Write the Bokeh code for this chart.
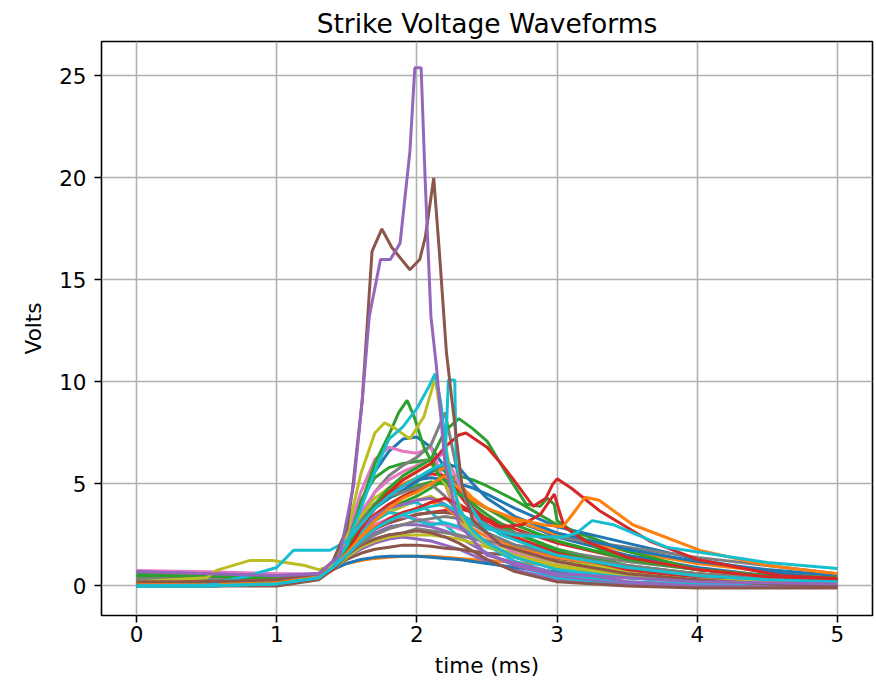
from bokeh.plotting import figure
from bokeh.models import FixedTicker, Range1d
from bokeh.embed import file_html
from bokeh.resources import INLINE

BLUE, ORANGE, GREEN, RED, PURPLE = "#1f77b4", "#ff7f0e", "#2ca02c", "#d62728", "#9467bd"
BROWN, PINK, GRAY, OLIVE, CYAN = "#8c564b", "#e377c2", "#7f7f7f", "#bcbd22", "#17becf"

title_text = "Strike Voltage Waveforms"
x_label = "time (ms)"
y_label = "Volts"
x_ticks = [0, 1, 2, 3, 4, 5]
y_ticks = [0, 5, 10, 15, 20, 25]

# common time grid (ms) for the bulk of the waveforms
t_grid = [0, 0.5, 1.0, 1.3, 1.4, 1.5, 1.6, 1.7, 1.8, 1.9, 2.0, 2.1, 2.2, 2.3, 2.4, 2.5, 2.7, 3.0, 3.5, 4.0, 4.5, 5.0]

blue_1 = [0.2, 0.2, 0.2, 0.5, 0.9, 2.0, 4.0, 5.6, 6.6, 7.2, 7.3, 6.8, 5.8, 4.8, 4.2, 3.8, 3.2, 2.4, 1.5, 0.9, 0.5, 0.3]
orange_1 = [0.1, 0.1, 0.1, 0.4, 0.8, 1.1, 1.25, 1.35, 1.4, 1.45, 1.45, 1.45, 1.4, 1.35, 1.3, 1.25, 1.15, 1.0, 0.7, 0.45, 0.3, 0.2]
green_3 = [0.5, 0.5, 0.4, 0.6, 1.0, 2.4, 4.2, 5.3, 5.8, 6.0, 6.1, 6.2, 5.6, 4.5, 3.8, 3.3, 2.6, 1.8, 1.0, 0.6, 0.4, 0.3]
red_2 = [0.1, 0.1, 0.2, 0.5, 0.9, 1.8, 2.8, 3.5, 4.0, 4.4, 4.7, 5.0, 5.3, 4.5, 3.6, 3.0, 2.3, 1.6, 0.9, 0.5, 0.3, 0.2]
purple_2 = [0.5, 0.5, 0.4, 0.6, 0.9, 1.4, 1.8, 2.1, 2.3, 2.4, 2.3, 2.2, 2.0, 1.8, 1.5, 1.2, 0.8, 0.3, 0.05, 0.0, 0.0, 0.0]
brown_2 = [0.2, 0.2, 0.3, 0.5, 0.9, 1.3, 1.6, 1.8, 1.9, 2.0, 2.0, 1.95, 1.85, 1.8, 1.7, 1.6, 1.5, 1.3, 0.9, 0.6, 0.3, 0.1]
pink_1 = [0.75, 0.7, 0.6, 0.6, 1.0, 2.4, 4.6, 6.2, 6.8, 6.6, 6.5, 6.8, 5.0, 3.2, 2.4, 2.0, 1.5, 1.0, 0.5, 0.3, 0.2, 0.1]
gray_1 = [0.3, 0.3, 0.4, 0.6, 1.0, 2.0, 3.4, 4.6, 5.4, 5.9, 6.3, 6.9, 8.5, 5.2, 3.5, 2.6, 2.0, 1.4, 0.9, 0.5, 0.3, 0.2]
olive_2 = [0.1, 0.1, 0.1, 0.4, 0.8, 1.7, 2.6, 3.2, 3.6, 3.9, 4.2, 4.4, 4.0, 3.2, 2.6, 2.2, 1.7, 1.2, 0.7, 0.4, 0.2, 0.1]
cyan_3 = [0.0, 0.0, 0.1, 0.4, 0.9, 1.8, 2.8, 3.4, 3.8, 4.0, 4.1, 3.6, 3.0, 2.4, 2.0, 1.6, 1.0, 0.4, 0.1, 0.0, 0.0, 0.0]
blue_2 = [0.0, 0.0, 0.1, 0.4, 0.8, 1.1, 1.3, 1.4, 1.45, 1.45, 1.45, 1.4, 1.35, 1.3, 1.2, 1.1, 0.9, 0.7, 0.4, 0.2, 0.1, 0.05]
orange_2 = [0.1, 0.2, 0.2, 0.5, 0.9, 2.0, 3.2, 4.0, 4.6, 5.0, 5.3, 5.6, 5.8, 5.0, 4.3, 3.8, 3.2, 2.5, 1.7, 1.1, 0.7, 0.5]
green_4 = [0.4, 0.4, 0.3, 0.5, 0.9, 1.8, 2.7, 3.3, 3.8, 4.1, 4.4, 4.8, 5.2, 5.4, 5.2, 4.9, 4.2, 3.0, 1.7, 0.8, 0.5, 0.3]
red_3 = [0.2, 0.2, 0.2, 0.5, 0.9, 1.6, 2.3, 2.8, 3.1, 3.3, 3.5, 3.6, 3.7, 3.8, 3.6, 3.3, 2.8, 2.1, 1.3, 0.8, 0.5, 0.35]
purple_3 = [0.3, 0.3, 0.3, 0.5, 0.9, 1.6, 2.2, 2.6, 2.9, 3.0, 3.0, 2.9, 2.7, 2.4, 2.0, 1.6, 1.0, 0.5, 0.1, 0.0, 0.0, 0.0]
brown_3 = [0.2, 0.2, 0.3, 0.5, 0.9, 1.6, 2.3, 2.8, 3.1, 3.3, 3.5, 3.6, 3.6, 3.5, 3.2, 2.9, 2.3, 1.6, 0.8, 0.4, 0.1, 0.0]
pink_2 = [0.3, 0.3, 0.3, 0.5, 0.9, 1.7, 2.5, 3.0, 3.3, 3.4, 3.3, 3.1, 3.0, 2.8, 2.5, 2.2, 1.8, 1.4, 0.9, 0.5, 0.3, 0.2]
gray_2 = [0.1, 0.1, 0.2, 0.5, 0.9, 1.5, 2.0, 2.3, 2.5, 2.6, 2.8, 2.7, 2.6, 2.5, 2.3, 2.2, 2.0, 1.7, 1.2, 0.8, 0.5, 0.3]
olive_3 = [0.0, 0.0, 0.1, 0.4, 0.8, 1.4, 1.9, 2.2, 2.4, 2.5, 2.5, 2.5, 2.4, 2.3, 2.1, 1.9, 1.6, 1.2, 0.8, 0.5, 0.3, 0.2]
cyan_4 = [0.0, 0.0, 0.1, 0.4, 0.9, 1.7, 2.6, 3.2, 3.6, 3.5, 3.2, 3.0, 3.1, 2.9, 2.5, 2.0, 1.2, 0.6, 0.2, 0.1, 0.05, 0.0]
blue_3 = [0.3, 0.3, 0.3, 0.5, 0.9, 2.0, 3.2, 4.0, 4.5, 4.9, 5.2, 5.3, 5.2, 5.0, 4.8, 4.5, 3.8, 2.9, 2.1, 1.3, 0.7, 0.3]
orange_3 = [0.2, 0.2, 0.3, 0.5, 0.9, 1.7, 2.4, 2.9, 3.2, 3.5, 3.8, 4.1, 3.9, 3.3, 2.8, 2.4, 1.9, 1.4, 0.9, 0.6, 0.4, 0.3]
green_5 = [0.3, 0.3, 0.3, 0.5, 0.9, 1.9, 3.0, 3.8, 4.3, 4.6, 4.9, 5.1, 5.0, 4.6, 4.0, 3.5, 2.6, 1.7, 0.9, 0.5, 0.3, 0.2]
red_4 = [0.0, 0.0, 0.1, 0.4, 0.9, 2.0, 3.2, 4.0, 4.5, 4.9, 5.2, 5.5, 5.4, 4.6, 3.8, 3.2, 2.4, 1.6, 0.8, 0.4, 0.2, 0.1]
purple_4 = [0.7, 0.6, 0.5, 0.6, 1.0, 1.9, 2.8, 3.4, 3.8, 4.0, 4.2, 4.3, 4.0, 3.4, 2.7, 2.1, 1.4, 0.8, 0.2, 0.0, 0.0, 0.0]
brown_4 = [0.1, 0.0, 0.0, 0.3, 0.8, 1.5, 2.0, 2.3, 2.5, 2.6, 2.7, 2.6, 2.4, 2.1, 1.7, 1.3, 0.7, 0.2, 0.0, -0.1, -0.1, -0.1]
pink_3 = [0.4, 0.4, 0.4, 0.6, 1.0, 2.2, 3.6, 4.6, 5.2, 5.6, 5.9, 6.2, 6.5, 5.0, 3.4, 2.5, 1.6, 1.0, 0.6, 0.3, 0.2, 0.1]
gray_4 = [0.3, 0.3, 0.3, 0.5, 0.9, 1.5, 2.1, 2.5, 2.8, 3.0, 3.2, 3.3, 3.4, 3.3, 3.1, 2.9, 2.6, 2.4, 1.9, 1.4, 1.0, 0.6]
olive_4 = [0.2, 0.2, 0.2, 0.5, 0.9, 2.0, 3.4, 4.3, 4.8, 5.2, 5.6, 6.0, 5.0, 3.6, 2.6, 2.0, 1.4, 0.9, 0.5, 0.3, 0.15, 0.1]
blue_4 = [0.1, 0.1, 0.2, 0.5, 0.9, 1.9, 3.0, 3.8, 4.3, 4.7, 5.1, 5.6, 6.0, 5.8, 5.0, 4.3, 3.4, 2.6, 1.8, 1.2, 0.8, 0.5]
gray_3 = [0.4, 0.4, 0.4, 0.6, 1.0, 2.0, 3.2, 4.0, 4.4, 4.6, 4.8, 5.0, 4.4, 3.6, 3.0, 2.6, 2.0, 1.5, 1.0, 0.6, 0.4, 0.3]

grid_series = [
    (blue_1, BLUE), (orange_1, ORANGE), (green_3, GREEN), (red_2, RED), (purple_2, PURPLE),
    (brown_2, BROWN), (pink_1, PINK), (gray_1, GRAY), (olive_2, OLIVE), (cyan_3, CYAN),
    (blue_2, BLUE), (orange_2, ORANGE), (green_4, GREEN), (red_3, RED), (purple_3, PURPLE),
    (brown_3, BROWN), (pink_2, PINK), (gray_2, GRAY), (olive_3, OLIVE), (cyan_4, CYAN),
    (blue_3, BLUE), (orange_3, ORANGE), (green_5, GREEN), (red_4, RED), (purple_4, PURPLE),
    (brown_4, BROWN), (pink_3, PINK), (gray_4, GRAY), (olive_4, OLIVE), (blue_4, BLUE),
    (gray_3, GRAY),
]

# waveforms with features of their own
t_green_a = [0, 0.5, 1, 1.3, 1.4, 1.5, 1.6, 1.7, 1.8, 1.87, 1.93, 1.98, 2.05, 2.15, 2.3, 2.5, 2.7, 3.0, 3.5, 4, 4.5, 5]
v_green_a = [0.5, 0.5, 0.4, 0.5, 0.9, 2.0, 4.0, 6.0, 7.4, 8.5, 9.1, 8.3, 6.8, 5.5, 4.5, 3.8, 3.0, 2.2, 1.3, 0.8, 0.5, 0.3]

t_green_b = [0, 0.5, 1.0, 1.3, 1.4, 1.5, 1.6, 1.7, 1.8, 1.9, 2.0, 2.1, 2.2, 2.3, 2.4, 2.5, 2.64, 2.78, 2.88, 2.93, 2.98, 3.0, 3.3, 3.6, 4.0, 4.5, 5.0]
v_green_b = [0.6, 0.5, 0.3, 0.5, 0.9, 1.8, 3.0, 4.0, 4.8, 5.4, 5.8, 6.2, 7.6, 8.2, 7.7, 7.1, 5.5, 4.0, 3.9, 4.3, 4.0, 3.2, 1.8, 1.2, 0.8, 0.5, 0.4]

t_red_c = [0, 0.5, 1.0, 1.3, 1.4, 1.5, 1.6, 1.7, 1.8, 1.9, 2.0, 2.1, 2.2, 2.3, 2.35, 2.5, 2.6, 2.68, 2.83, 2.92, 2.97, 3.0, 3.1, 3.3, 3.66, 4.0, 4.6, 5.0]
v_red_c = [0.2, 0.2, 0.2, 0.4, 0.8, 1.6, 2.8, 3.8, 4.6, 5.2, 5.6, 6.0, 6.8, 7.4, 7.5, 6.8, 6.0, 5.3, 3.9, 4.3, 5.0, 5.25, 4.8, 3.7, 2.2, 1.3, 0.5, 0.37]

t_red_d = [0, 0.5, 1, 1.3, 1.4, 1.5, 1.6, 1.7, 1.8, 1.9, 2.0, 2.1, 2.2, 2.3, 2.4, 2.5, 2.6, 2.75, 2.88, 2.95, 2.98, 3.01, 3.05, 3.2, 3.5, 4.0, 4.5, 5.0]
v_red_d = [0.1, 0.1, 0.2, 0.5, 0.9, 1.5, 2.2, 2.8, 3.3, 3.6, 3.8, 4.1, 4.3, 4.0, 3.6, 3.2, 2.9, 3.0, 3.5, 4.2, 4.5, 3.8, 2.9, 2.2, 1.4, 0.8, 0.45, 0.3]

t_orange_e = [0, 0.5, 1, 1.3, 1.4, 1.5, 1.6, 1.7, 1.8, 1.9, 2.0, 2.1, 2.2, 2.3, 2.4, 2.5, 2.7, 2.9, 3.04, 3.12, 3.2, 3.3, 3.54, 4.02, 4.5, 5.0]
v_orange_e = [0.1, 0.1, 0.2, 0.5, 0.9, 1.6, 2.4, 3.2, 3.8, 4.3, 4.6, 5.0, 5.4, 4.8, 4.2, 3.8, 3.3, 3.0, 2.9, 3.6, 4.35, 4.2, 3.0, 1.74, 1.0, 0.6]

t_cyan_f = [0, 0.5, 1, 1.3, 1.4, 1.5, 1.6, 1.7, 1.8, 1.9, 2.0, 2.1, 2.2, 2.3, 2.4, 2.5, 2.7, 2.9, 3.05, 3.14, 3.25, 3.4, 3.78, 4.5, 5.0]
v_cyan_f = [0.0, 0.0, 0.1, 0.4, 0.9, 1.5, 2.2, 2.8, 3.2, 3.5, 3.7, 3.9, 4.0, 3.6, 3.1, 2.8, 2.5, 2.4, 2.4, 2.6, 3.2, 3.0, 1.9, 1.15, 0.85]

t_cyan_g = [0, 0.5, 1, 1.3, 1.4, 1.5, 1.6, 1.7, 1.8, 1.9, 2.0, 2.08, 2.13, 2.17, 2.22, 2.3, 2.4, 2.5, 2.7, 3.0, 3.5, 4.0, 4.5, 5.0]
v_cyan_g = [0.0, 0.0, 0.1, 0.4, 0.9, 2.0, 3.8, 5.6, 7.2, 7.8, 8.7, 9.7, 10.4, 9.0, 6.0, 3.8, 2.7, 2.1, 1.4, 0.8, 0.4, 0.2, 0.1, 0.05]

t_cyan_h = [0, 0.5, 0.8, 1.0, 1.12, 1.38, 1.5, 1.6, 1.7, 1.8, 1.9, 2.0, 2.1, 2.2, 2.215, 2.225, 2.27, 2.28, 2.35, 2.45, 2.6, 2.8, 3.0, 3.5, 4, 4.5, 5]
v_cyan_h = [0.0, 0.05, 0.5, 0.9, 1.75, 1.75, 2.2, 3.0, 3.8, 4.4, 4.9, 5.3, 5.7, 6.0, 8.5, 10.1, 10.1, 6.0, 4.2, 3.2, 2.5, 2.0, 1.5, 0.9, 0.5, 0.3, 0.2]

t_olive_i = [0, 0.5, 0.57, 0.81, 0.97, 1.2, 1.3, 1.4, 1.5, 1.6, 1.7, 1.77, 1.85, 1.95, 2.05, 2.13, 2.18, 2.25, 2.35, 2.5, 2.7, 3.0, 3.5, 4, 4.5, 5]
v_olive_i = [0.2, 0.4, 0.76, 1.25, 1.25, 1.0, 0.8, 1.0, 2.5, 5.5, 7.5, 8.0, 7.7, 7.2, 8.3, 10.2, 8.0, 5.0, 3.0, 2.0, 1.5, 1.0, 0.6, 0.3, 0.2, 0.1]

t_brown_big = [0, 0.5, 1.0, 1.3, 1.4, 1.5, 1.54, 1.61, 1.68, 1.75, 1.82, 1.95, 2.02, 2.06, 2.12, 2.16, 2.21, 2.25, 2.32, 2.4, 2.6, 3.0, 3.5, 4.0, 4.5, 5.0]
v_brown_big = [0.2, 0.2, 0.3, 0.6, 1.2, 2.8, 4.7, 9.1, 16.4, 17.5, 16.6, 15.5, 16.0, 17.1, 20.0, 16.4, 11.5, 9.1, 5.0, 3.2, 2.0, 1.2, 0.6, 0.3, 0.1, 0.0]

t_purple_big = [0, 0.5, 1.0, 1.3, 1.45, 1.55, 1.61, 1.66, 1.74, 1.81, 1.88, 1.95, 1.985, 2.03, 2.06, 2.1, 2.14, 2.2, 2.3, 2.5, 3.0, 4.0, 5.0]
v_purple_big = [0.7, 0.6, 0.5, 0.6, 1.5, 5.0, 9.1, 13.2, 16.0, 16.0, 16.8, 21.3, 25.4, 25.4, 19.7, 13.2, 10.7, 6.0, 3.0, 1.5, 0.6, 0.2, 0.1]

special_series = [
    (t_green_a, v_green_a, GREEN), (t_green_b, v_green_b, GREEN), (t_red_c, v_red_c, RED),
    (t_red_d, v_red_d, RED), (t_orange_e, v_orange_e, ORANGE), (t_cyan_f, v_cyan_f, CYAN),
    (t_olive_i, v_olive_i, OLIVE), (t_cyan_g, v_cyan_g, CYAN), (t_cyan_h, v_cyan_h, CYAN),
    (t_brown_big, v_brown_big, BROWN), (t_purple_big, v_purple_big, PURPLE),
]

FONT = "DejaVu Sans"

p = figure(width=874, height=680, output_backend="svg", toolbar_location=None,
           x_range=Range1d(-0.25, 5.25), y_range=Range1d(-1.45, 26.69),
           min_border_left=101, min_border_right=2, min_border_top=41, min_border_bottom=65)

for vals, col in grid_series:
    p.line(t_grid, vals, line_color=col, line_width=3)
for ts, vs, col in special_series:
    p.line(ts, vs, line_color=col, line_width=3)

p.title.text = title_text
p.title.text_font = FONT
p.title.text_font_size = "26.5px"
p.title.text_font_style = "normal"
p.title.align = "center"
p.title.text_color = "black"
p.title.standoff = 6

p.xaxis.axis_label = x_label
p.yaxis.axis_label = y_label
p.xaxis.ticker = FixedTicker(ticks=x_ticks)
p.yaxis.ticker = FixedTicker(ticks=y_ticks)
for ax in (p.xaxis, p.yaxis):
    ax.axis_label_text_font = FONT
    ax.axis_label_text_font_size = "21.5px"
    ax.axis_label_text_font_style = "normal"
    ax.axis_label_text_color = "black"
    ax.major_label_text_font = FONT
    ax.major_label_text_font_size = "21.5px"
    ax.major_label_text_color = "black"
    ax.major_tick_out = 7
    ax.major_tick_in = 0
    ax.major_tick_line_width = 1.6
    ax.major_tick_line_color = "black"
    ax.minor_tick_line_color = None
    ax.axis_line_color = None
p.xaxis.major_label_standoff = 3
p.xaxis.axis_label_standoff = 8
p.yaxis.major_label_standoff = 8
p.yaxis.axis_label_standoff = 10

p.grid.grid_line_color = "#b0b0b0"
p.grid.grid_line_width = 1.6
p.outline_line_color = "black"
p.outline_line_width = 1.6
p.background_fill_color = "white"
p.border_fill_color = "white"

open("out.html", "w").write(file_html(p, INLINE))
